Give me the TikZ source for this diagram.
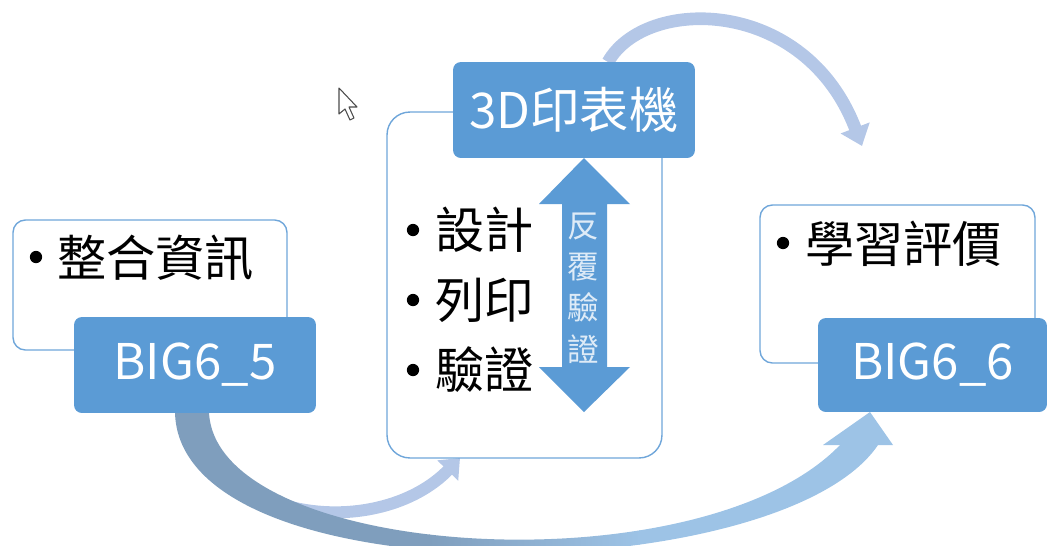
\documentclass[tikz,border=0pt]{standalone}
\usepackage{fontspec}
\setmainfont{Noto Sans CJK TC}
\usetikzlibrary{arrows.meta}
\definecolor{blu}{HTML}{5B9BD5}
\definecolor{boxline}{HTML}{6FA6DA}
\definecolor{arcL}{HTML}{B4C7E7}
\definecolor{bigD}{HTML}{7F9EBD}
\definecolor{bigL}{HTML}{9DC3E6}
\definecolor{vtxt}{HTML}{DEEBF7}
\tikzset{
  wbox/.style={draw=boxline, line width=0.8pt, fill=white, rounded corners=#1, inner sep=0pt},
  bbox/.style={fill=blu, rounded corners=4.5pt, inner sep=0pt, text=white,
    font=\fontsize{28}{30}\selectfont, minimum width=4.84cm, minimum height=1.92cm},
  item/.style={font=\fontsize{28}{30}\selectfont, inner sep=0pt, anchor=west},
  dotmark/.style={circle, fill=black, inner sep=0pt, minimum size=7pt},
  arcline/.style={draw=arcL, line width=7.2pt},
}
\begin{document}
\begin{tikzpicture}[x=0.02cm,y=-0.02cm]
\useasboundingbox (0,0) rectangle (1049,545);
\clip (0,0) rectangle (1049,545);

% connector end points
\coordinate (topS) at (608,62);
\coordinate (topE) at (862,146);
\coordinate (smS) at (193,412);
\coordinate (smE) at (460,458);

% top arc
\draw[arcline, -{Triangle[width=17pt,length=11pt]}] (topS) .. controls (645,-4) and (805,-4) .. (topE);

% small bottom arc
\draw[arcline, line width=6.8pt, -{Triangle[width=16pt,length=10pt]}] (smS) .. controls (215,525) and (380,540) .. (smE);

% big bottom arc (band with colour gradient)
\begin{scope}
  \clip (175,412) .. controls (178,600) and (780,590) .. (878,445)
        -- (840,445) .. controls (700,590) and (215,560) .. (209,412) -- cycle;
  \fill[bigD] (150,400) rectangle (430,600);
  \shade[left color=bigD, right color=bigL] (429,400) rectangle (640,600);
  \fill[bigL] (639,400) rectangle (900,600);
\end{scope}
\fill[bigL] (823,445) -- (893,445) -- (870,412) -- cycle;

% boxes
\node[wbox=7pt, minimum width=5.48cm, minimum height=2.6cm] (lbox) at (150,285) {};
\node[wbox=13pt, minimum width=5.5cm, minimum height=6.92cm] (mbox) at (524.5,285) {};
\node[wbox=7pt, minimum width=5.5cm, minimum height=3.16cm] (rbox) at (897.5,284) {};

\node[bbox] (b5) at (195,365) {BIG6\_5};
\node[bbox] (b3d) at (574,110) {3D印表機};
\node[bbox, minimum width=4.58cm, minimum height=1.88cm] (b6) at (932.5,365) {BIG6\_6};

% bullets and items
\node[dotmark] (d1) at (36,257) {};
\node[item] (t1) at (57,258) {整合資訊};
\node[dotmark] (d2) at (413,230) {};
\node[item] (t2) at (435,230) {設計};
\node[dotmark] (d3) at (413,300) {};
\node[item] (t3) at (435,300) {列印};
\node[dotmark] (d4) at (413,370) {};
\node[item] (t4) at (435,370) {驗證};
\node[dotmark] (d5) at (783,243) {};
\node[item] (t5) at (805,244) {學習評價};

% double arrow
\fill[blu] (584,158) -- (630,204) -- (607,204) -- (607,367) -- (630,367) -- (584,412)
  -- (539,367) -- (562,367) -- (562,204) -- (539,204) -- cycle;
\node[text=vtxt, align=center, inner sep=0pt, font=\fontsize{18}{23.5}\selectfont] (vt) at (583,288) {反\\覆\\驗\\證};

% mouse cursor
\draw[fill=white, draw=black!70, line width=0.6pt, line join=round]
  (339,88) -- (339,114) -- (345,109) -- (350,120) -- (354,118) -- (349,107) -- (357,107) -- cycle;
\end{tikzpicture}
\end{document}
